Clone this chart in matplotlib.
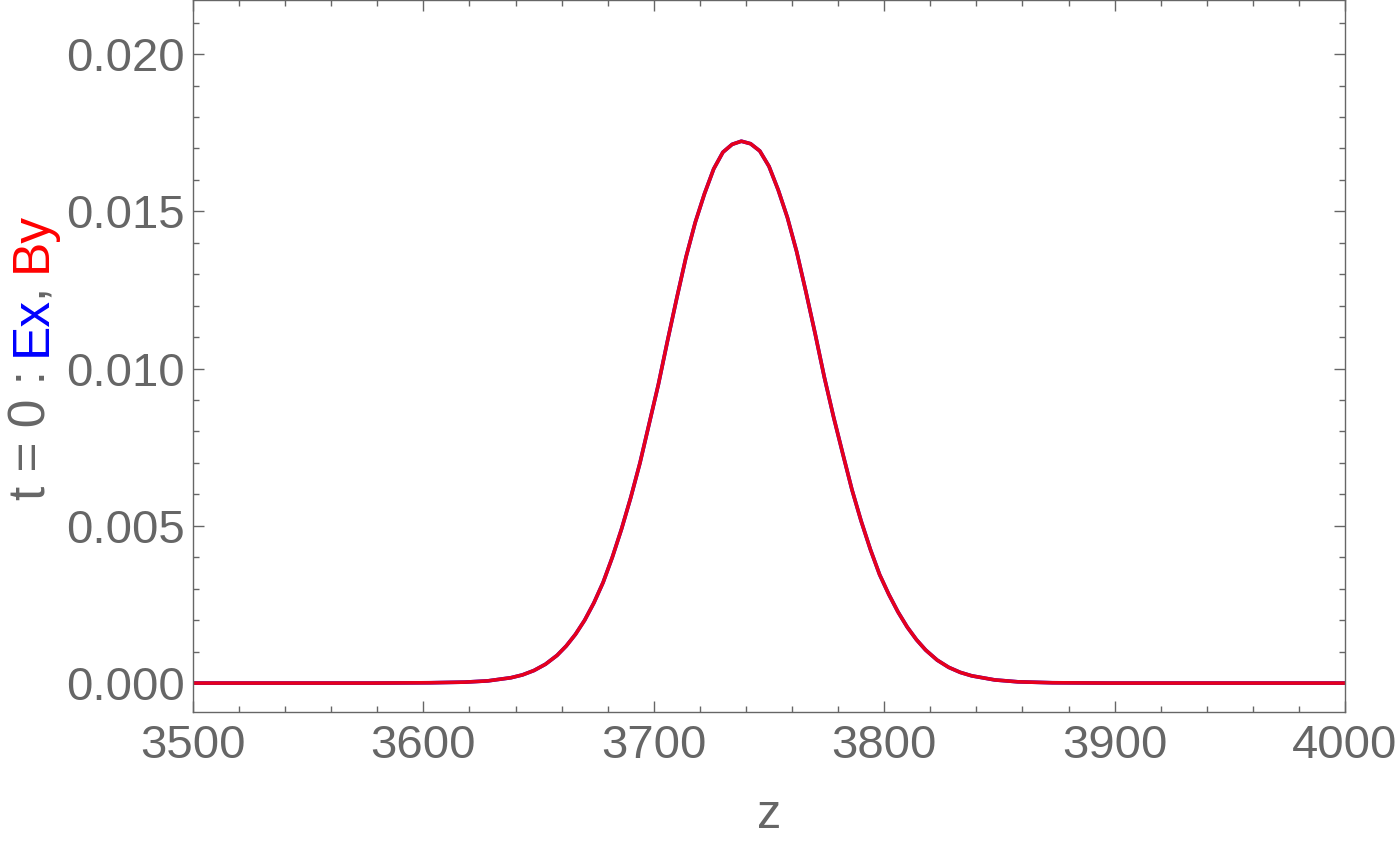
import numpy as np
import matplotlib
matplotlib.use('Agg')
import matplotlib.pyplot as plt
from matplotlib.ticker import MultipleLocator

plt.rcParams['font.family'] = ['Liberation Sans', 'DejaVu Sans']

# values
z = [3500, 3578, 3603, 3618, 3628, 3638, 3643, 3648, 3653, 3658, 3662, 3666,
     3670, 3674, 3678, 3682, 3686, 3690, 3694, 3698, 3702, 3706, 3710, 3714,
     3718, 3722, 3726, 3730, 3734, 3738,
     3742, 3746, 3750, 3754, 3758, 3762, 3766, 3770, 3774, 3778, 3782, 3786,
     3790, 3794, 3798, 3802, 3806, 3810, 3814, 3818, 3823, 3828, 3833, 3838,
     3848, 3858, 3873, 3898, 4000]
ex = [0.0, 0.0, 0.00001, 0.00003, 0.00007, 0.00017, 0.00026, 0.00040, 0.00060, 0.00088, 0.00118, 0.00155,
      0.00200, 0.00255, 0.00320, 0.00400, 0.00490, 0.00590, 0.00700, 0.00825, 0.00950, 0.01090, 0.01225, 0.01355,
      0.01465, 0.01556, 0.01635, 0.01688, 0.01713, 0.01723,
      0.01715, 0.01692, 0.01643, 0.01568, 0.01480, 0.01372, 0.01245, 0.01112, 0.00973, 0.00847, 0.00730, 0.00615,
      0.00515, 0.00425, 0.00345, 0.00282, 0.00226, 0.00178, 0.00138, 0.00105, 0.00073, 0.00050, 0.00034, 0.00023,
      0.00010, 0.00004, 0.00001, 0.0, 0.0]
by = list(ex)  # By lies exactly on top of Ex at t = 0

gray = '#666666'
W, H = 1400, 842

fig = plt.figure(figsize=(W / 100, H / 100), dpi=100)
ax = fig.add_axes([193 / W, 1 - 712 / H, (1345 - 193) / W, 712 / H])

ax.plot(z, ex, color='#0000ff', lw=2.6, solid_joinstyle='round')
ax.plot(z, by, color='#e6001c', lw=2.6, solid_joinstyle='round')

ax.set_xlim(3500, 4000)
ax.set_ylim(-0.00092, 0.02172)
ax.xaxis.set_major_locator(MultipleLocator(100))
ax.xaxis.set_minor_locator(MultipleLocator(20))
ax.yaxis.set_major_locator(MultipleLocator(0.005))
ax.yaxis.set_minor_locator(MultipleLocator(0.001))
ax.yaxis.set_major_formatter(plt.FormatStrFormatter('%.3f'))

ax.tick_params(which='both', direction='in', top=True, right=True,
               color=gray, width=1.0, labelcolor=gray, labelsize=34)
ax.tick_params(which='major', length=8, pad=6)
ax.tick_params(which='minor', length=4.5)
ax.tick_params(axis='x', which='major', pad=9)
for s in ax.spines.values():
    s.set_color(gray)
    s.set_linewidth(1.0)

fig.text(769 / W, 1 - 815 / H, 'z', color=gray, fontsize=35, ha='center', va='center')

# multi-coloured rotated y label, built piece by piece
pieces = [('t = 0 : ', gray), ('Ex', '#0000ff'), (', ', gray), ('By', '#ff0000')]
nudge = [0, 0, -5, 0]  # pull the comma up against "Ex"
fig.canvas.draw()
renderer = fig.canvas.get_renderer()
texts = []
lengths = []
for s, c in pieces:
    t = fig.text(0, 0, s, color=c, fontsize=37, rotation=90,
                 rotation_mode='anchor', ha='left', va='baseline')
    texts.append(t)
    lengths.append(t.get_window_extent(renderer).height)
total = sum(lengths) + sum(nudge)
y0 = (H - 356) - total / 2
x0 = 46
for t, L, d in zip(texts, lengths, nudge):
    y0 += d
    t.set_position((x0 / W, y0 / H))
    y0 += L

fig.savefig('out.png', dpi=100)
